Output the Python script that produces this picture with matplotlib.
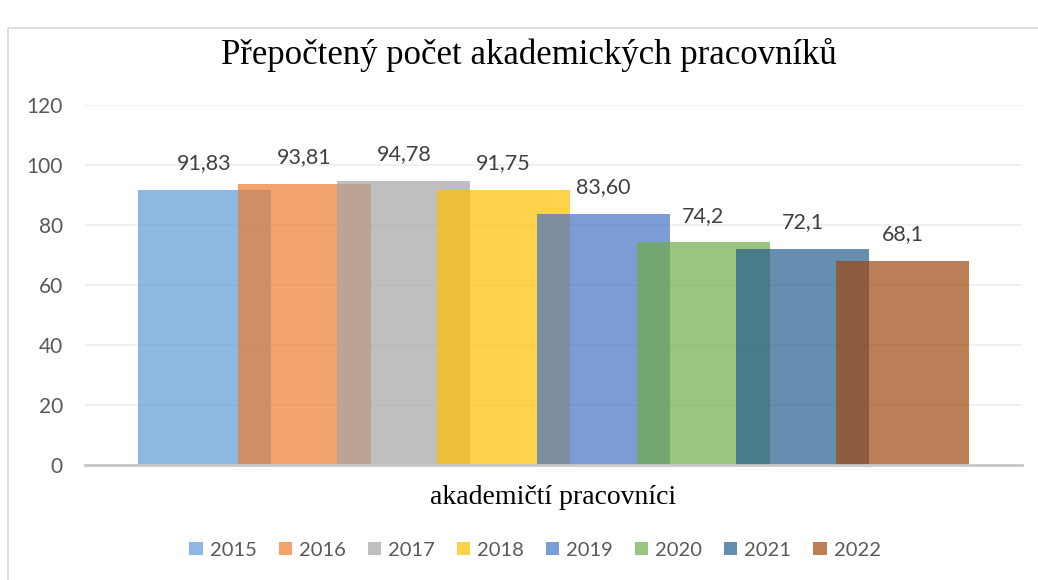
import matplotlib.pyplot as plt
from matplotlib.patches import Rectangle

# data
years = ["2015", "2016", "2017", "2018", "2019", "2020", "2021", "2022"]
values = [91.83, 93.81, 94.78, 91.75, 83.60, 74.2, 72.1, 68.1]
labels = ["91,83", "93,81", "94,78", "91,75", "83,60", "74,2", "72,1", "68,1"]
category = "akademičtí pracovníci"
colors = ["#5B9BD5", "#ED7D31", "#A5A5A5", "#FFC000",
          "#4472C4", "#70AD47", "#255E91", "#9E480E"]

fig = plt.figure(figsize=(10.38, 5.80), dpi=100)
# chart area border
fig.patches.append(Rectangle((8 / 1038, -0.1), 1.2, (580 - 28) / 580 + 0.1,
                             transform=fig.transFigure, fill=False,
                             edgecolor="#D9D9D9", linewidth=1.2))

ax = fig.add_axes([85 / 1038, 1 - 465 / 580, 937 / 1038, 360 / 580])

# Excel-style clustered bars with overlap
n = len(years)
width = 133
step = 99.7
center = 937 / 2
for i, (yr, v, lab, c) in enumerate(zip(years, values, labels, colors)):
    x = center + (i - (n - 1) / 2) * step
    ax.bar(x, v, width=width, color=c, alpha=0.7, label=yr, zorder=2 + i)
    ax.annotate(lab, (x, v), xytext=(0, 12), textcoords="offset points",
                ha="center", va="bottom", fontsize=15.5, color="#404040",
                family="Lato", zorder=20)

ax.set_xlim(0, 937)
ax.set_ylim(0, 120)
ax.set_yticks(range(0, 121, 20))
ax.set_xticks([])
ax.grid(axis="y", color="#EDEDED", linewidth=1.2, zorder=0)
ax.set_axisbelow(True)
for s in ["top", "right", "left"]:
    ax.spines[s].set_visible(False)
ax.spines["bottom"].set_color("#C8C8C8")
ax.spines["bottom"].set_linewidth(2)
ax.spines["bottom"].set_zorder(30)
ax.tick_params(axis="y", length=0, pad=16, labelsize=15, labelcolor="#595959")
for t in ax.get_yticklabels():
    t.set_family("Lato")

fig.text(529 / 1038, 1 - 55 / 580, "Přepočtený počet akademických pracovníků",
         ha="center", va="center", family="Liberation Serif", fontsize=25)
ax.text(0.5, -32 / 360, category, transform=ax.transAxes, ha="center",
        va="center", family="Liberation Serif", fontsize=20)

leg = fig.legend(loc="center", bbox_to_anchor=(535 / 1038, 1 - 550 / 580),
                 ncol=n, frameon=False, handlelength=0.65, handleheight=0.65,
                 handletextpad=0.35, columnspacing=1.1,
                 prop={"family": "Lato", "size": 14.5})
for t in leg.get_texts():
    t.set_color("#595959")

fig.savefig("out.png", dpi=100)
